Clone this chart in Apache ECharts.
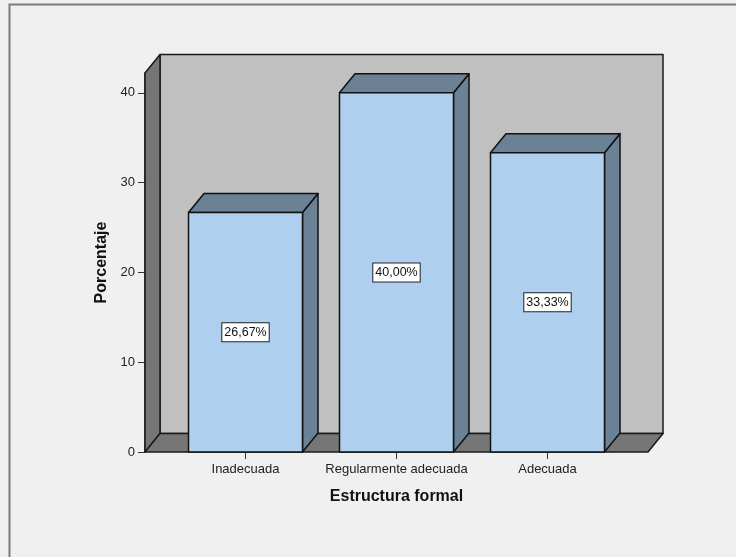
<!DOCTYPE html>
<html>
<head>
<meta charset="utf-8">
<style>
  html, body { margin: 0; padding: 0; background: #f0f0f0; }
  #chart { width: 736px; height: 557px; }
</style>
<script src="https://cdn.jsdelivr.net/npm/echarts@6/dist/echarts.min.js"></script>
</head>
<body>
<div id="chart"></div>
<script>
// Categories and percentages
const categories = ['Inadecuada', 'Regularmente adecuada', 'Adecuada'];
const percentages = [26.67, 40.00, 33.33];
const yTicks = [0, 10, 20, 30, 40];
const yAxisTop = 42.2;

const FONT = "'Liberation Sans', Arial, sans-serif";

// 3D depth offsets (pixels)
const WALL_DX = 15, WALL_DY = -18.5;
const BAR_DX = 15.5, BAR_DY = -19;
const FLOOR_PAD = 25;

const chart = echarts.init(document.getElementById('chart'), null, { renderer: 'canvas' });

function fmt(v) {
  return v.toFixed(2).replace('.', ',') + '%';
}

// Walls and floor behind the bars
function renderBackdrop(params, api) {
  const cs = params.coordSys;
  const L = cs.x - FLOOR_PAD;
  const R = cs.x + cs.width + FLOOR_PAD;
  const T = cs.y;
  const B = cs.y + cs.height;
  const stroke = { stroke: '#1a1a1a', lineWidth: 1.5, lineJoin: 'round' };
  return {
    type: 'group',
    children: [
      {
        type: 'polygon',
        shape: { points: [[L + WALL_DX, T + WALL_DY], [R + WALL_DX, T + WALL_DY], [R + WALL_DX, B + WALL_DY], [L + WALL_DX, B + WALL_DY]] },
        style: Object.assign({ fill: '#c0c0c0' }, stroke)
      },
      {
        type: 'polygon',
        shape: { points: [[L, B], [L, T], [L + WALL_DX, T + WALL_DY], [L + WALL_DX, B + WALL_DY]] },
        style: Object.assign({ fill: '#767676' }, stroke)
      },
      {
        type: 'polygon',
        shape: { points: [[L, B], [L + WALL_DX, B + WALL_DY], [R + WALL_DX, B + WALL_DY], [R, B]] },
        style: Object.assign({ fill: '#767676' }, stroke)
      }
    ]
  };
}

// Box-shaped bars with top and side faces
function renderBar(params, api) {
  const idx = api.value(0);
  const val = api.value(1);
  const top = api.coord([idx, val]);
  const base = api.coord([idx, 0]);
  const w = api.size([1, 0])[0] * 0.755;
  const x0 = top[0] - w / 2, x1 = top[0] + w / 2;
  const yt = top[1], yb = base[1];
  const stroke = { stroke: '#111', lineWidth: 1.5, lineJoin: 'round' };
  return {
    type: 'group',
    children: [
      {
        type: 'polygon',
        shape: { points: [[x1, yt], [x1 + BAR_DX, yt + BAR_DY], [x1 + BAR_DX, yb + BAR_DY], [x1, yb]] },
        style: Object.assign({ fill: '#6b8196' }, stroke)
      },
      {
        type: 'polygon',
        shape: { points: [[x0, yt], [x0 + BAR_DX, yt + BAR_DY], [x1 + BAR_DX, yt + BAR_DY], [x1, yt]] },
        style: Object.assign({ fill: '#6b8196' }, stroke)
      },
      {
        type: 'rect',
        shape: { x: x0, y: yt, width: w, height: yb - yt },
        style: Object.assign({ fill: '#aecfee' }, stroke)
      },
      {
        type: 'text',
        x: top[0],
        y: (yt + yb) / 2,
        style: {
          text: fmt(val),
          align: 'center',
          verticalAlign: 'middle',
          fontFamily: FONT,
          fontSize: 12.5,
          fill: '#111',
          backgroundColor: '#ffffff',
          borderColor: '#222',
          borderWidth: 1,
          padding: [3, 2, 2, 2]
        }
      }
    ]
  };
}

const option = {
  backgroundColor: '#f0f0f0',
  animation: false,
  textStyle: { fontFamily: FONT },
  graphic: [
    {
      type: 'rect',
      left: 7, top: 2,
      shape: { width: 1000, height: 1000 },
      style: { fill: null, stroke: '#7a7a7a', lineWidth: 2 },
      silent: true
    }
  ],
  grid: { left: 170, right: 113, top: 73, bottom: 105 },
  xAxis: {
    type: 'category',
    data: categories,
    boundaryGap: true,
    axisLine: { show: false },
    axisTick: { show: true, alignWithLabel: true, interval: 0, length: 7, lineStyle: { color: '#333', width: 1 } },
    axisLabel: { interval: 0, margin: 11, fontSize: 13, color: '#222', fontFamily: FONT },
    splitLine: { show: false },
    name: 'Estructura formal',
    nameLocation: 'middle',
    nameGap: 37,
    nameTextStyle: { fontSize: 16, fontWeight: 'bold', color: '#111', fontFamily: FONT }
  },
  yAxis: {
    type: 'value',
    min: 0,
    max: yAxisTop,
    interval: 10,
    offset: FLOOR_PAD,
    axisLine: { show: true, lineStyle: { color: '#1a1a1a', width: 1.5 } },
    axisTick: { show: true, length: 7, customValues: yTicks, lineStyle: { color: '#333', width: 1 } },
    axisLabel: { margin: 10, fontSize: 13, color: '#222', fontFamily: FONT, customValues: yTicks },
    splitLine: { show: false },
    name: 'Porcentaje',
    nameLocation: 'middle',
    nameRotate: 90,
    nameGap: 34,
    nameTextStyle: { fontSize: 16, fontWeight: 'bold', color: '#111', fontFamily: FONT }
  },
  series: [
    {
      type: 'custom',
      z: 1,
      silent: true,
      renderItem: renderBackdrop,
      data: [[0, 0]],
      encode: { x: 0, y: 1 }
    },
    {
      type: 'custom',
      z: 3,
      renderItem: renderBar,
      data: percentages.map((v, i) => [i, v]),
      encode: { x: 0, y: 1 }
    }
  ]
};

chart.setOption(option);
</script>
</body>
</html>
